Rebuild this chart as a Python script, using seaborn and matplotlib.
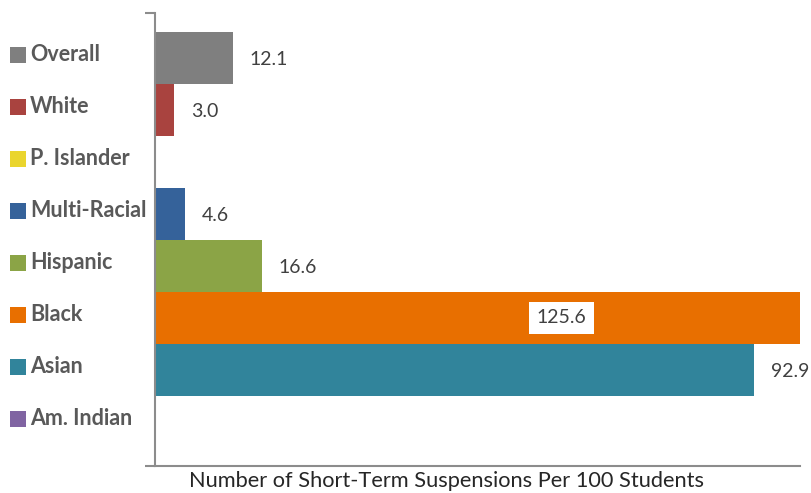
import numpy as np
import pandas as pd
import seaborn as sns
import matplotlib.pyplot as plt
import matplotlib.transforms as mtransforms

# Chart data (top to bottom); groups with no reported value are 0
groups = ['Overall', 'White', 'P. Islander', 'Multi-Racial',
          'Hispanic', 'Black', 'Asian', 'Am. Indian']
rates = [12.1, 3.0, 0, 4.6, 16.6, 125.6, 92.9, 0]
colors = ['#7f7f7f', '#a9433f', '#ead52e', '#35629a',
          '#8ba446', '#e86f00', '#31849b', '#8064a2']
xlabel = 'Number of Short-Term Suspensions Per 100 Students'

df = pd.DataFrame({'group': groups, 'rate': rates})

sns.set_style('white')
plt.rcParams['font.family'] = ['Lato', 'DejaVu Sans']

fig = plt.figure(figsize=(8.12, 4.93), dpi=100)
ax = fig.add_axes([155 / 812, 27 / 493, 645 / 812, 453 / 493])

sns.barplot(data=df, x='rate', y='group', hue='group', orient='h',
            palette=dict(zip(groups, colors)), width=1.0, errorbar=None,
            legend=False, saturation=1, linewidth=0, ax=ax)

# Axis capped at 100, so the Black bar runs off the edge
ax.set_xlim(0, 100)
ax.set_ylim(len(groups) - 0.5 + 0.35, -0.5 - 0.365)

# Value labels
for i, v in enumerate(rates):
    if v == 0:
        continue
    if v > 100:
        ax.text(63, i, f'{v:.1f}', ha='center', va='center', fontsize=14,
                color='#404040',
                bbox=dict(boxstyle='square,pad=0.4', fc='white', ec='none'))
    else:
        ax.text(v + 2.6, i + 0.03, f'{v:.1f}', ha='left', va='center',
                fontsize=14, color='#404040')

# Category labels with colour squares on the left
trans = mtransforms.blended_transform_factory(fig.transFigure, ax.transData)
for i, (g, c) in enumerate(zip(groups, colors)):
    ax.scatter([18 / 812], [i - 0.06], marker='s', s=120, color=c,
               transform=trans, clip_on=False, linewidths=0)
    ax.text(30 / 812, i - 0.06, g, transform=trans, ha='left', va='center',
            fontsize=15.5, fontweight='bold', color='#595959')

ax.set_ylabel('')
ax.set_xlabel('')
ax.set_xticks([])
ax.set_yticks(ax.get_ylim())
ax.set_yticklabels([])
ax.tick_params(axis='y', length=7, width=1.5, color='#8c8c8c', left=True)
fig.text(447 / 812, (493 - 481) / 493, xlabel, ha='center', va='center',
         fontsize=15.7, color='#262626')

for side in ['top', 'right']:
    ax.spines[side].set_visible(False)
for side in ['left', 'bottom']:
    ax.spines[side].set_color('#8c8c8c')
    ax.spines[side].set_linewidth(1.5)

fig.savefig('out.png', dpi=100)
